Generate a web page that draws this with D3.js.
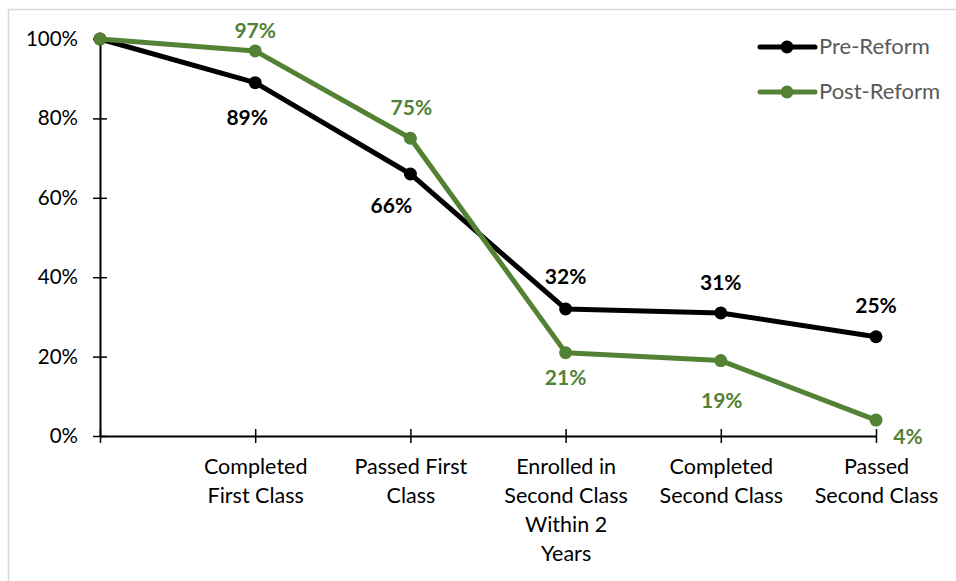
<!DOCTYPE html>
<html>
<head>
<meta charset="utf-8">
<script src="https://cdn.jsdelivr.net/npm/d3@7"></script>
<style>
  html, body { margin: 0; padding: 0; background: #fff; }
  svg { display: block; font-family: Lato, "Open Sans", sans-serif; }
</style>
</head>
<body>
<svg id="chart" width="956" height="581"></svg>
<script>
// Funnel stages (first stage is the unlabeled starting cohort)
const stages = ["", "Completed First Class", "Passed First Class",
  "Enrolled in Second Class Within 2 Years", "Completed Second Class", "Passed Second Class"];
const stageLines = [[""], ["Completed", "First Class"], ["Passed First", "Class"],
  ["Enrolled in", "Second Class", "Within 2", "Years"], ["Completed", "Second Class"], ["Passed", "Second Class"]];
const preReform = [100, 89, 66, 32, 31, 25];
const postReform = [100, 97, 75, 21, 19, 4];
const yTicks = [0, 20, 40, 60, 80, 100];
const seriesNames = ["Pre-Reform", "Post-Reform"];

// Label layout: [dx, dy] of each label's centre relative to its point (null = no label)
const preLabelOffset = [null, [-8, 35], [-19, 32], [0, -32], [0, -30], [0, -31]];
const postLabelOffset = [null, [0, -20], [1, -31], [0, 25], [1, 40], [32, 16]];

const colors = { "Pre-Reform": "#000000", "Post-Reform": "#548235" };
const labelColors = { "Pre-Reform": "#000000", "Post-Reform": "#538135" };

const svg = d3.select("#chart");

// outer frame
svg.append("rect").attr("x", 8.5).attr("y", 9.5).attr("width", 960).attr("height", 600)
  .attr("fill", "none").attr("stroke", "#d9d9d9").attr("stroke-width", 1.5);

const x = d3.scalePoint().domain(stages).range([100, 876]);
const y = d3.scaleLinear().domain([0, 100]).range([436, 39]);

// y axis
const yAxis = svg.append("g").attr("transform", "translate(100,0)")
  .call(d3.axisLeft(y).tickValues(yTicks).tickFormat(d => d + "%").tickSizeInner(7).tickSizeOuter(0));
yAxis.select(".domain").attr("stroke", "#000").attr("stroke-width", 2);
yAxis.selectAll(".tick line").attr("x2", 7).attr("x1", -7).attr("stroke", "#000").attr("stroke-width", 1.5);
yAxis.selectAll(".tick text").attr("x", -22).attr("font-size", 20.5).attr("fill", "#000")
  .attr("font-family", "Lato, sans-serif");

// x axis
const xAxis = svg.append("g").attr("transform", "translate(0,436)")
  .call(d3.axisBottom(x).tickSizeInner(7).tickSizeOuter(0).tickFormat(""));
xAxis.select(".domain").attr("stroke", "#000").attr("stroke-width", 2);
xAxis.selectAll(".tick line").attr("y1", -7).attr("y2", 7).attr("stroke", "#000").attr("stroke-width", 1.5);

// multi-line category labels
xAxis.selectAll(".tick").each(function(d, i) {
  const t = d3.select(this).append("text")
    .attr("text-anchor", "middle").attr("fill", "#000").attr("font-size", 21.5)
    .attr("font-family", "Lato, sans-serif");
  stageLines[i].forEach((line, j) => {
    t.append("tspan").attr("x", 0).attr("y", 38 + j * 29).text(line);
  });
});

const line = d3.line().x((d, i) => x(stages[i])).y(d => y(d));

function drawSeries(values, name, offsets) {
  const g = svg.append("g");
  g.append("path").datum(values).attr("d", line)
    .attr("fill", "none").attr("stroke", colors[name]).attr("stroke-width", 5)
    .attr("stroke-linejoin", "round");
  g.selectAll("circle").data(values).join("circle")
    .attr("cx", (d, i) => x(stages[i])).attr("cy", d => y(d)).attr("r", 6.5)
    .attr("fill", colors[name]);
  g.selectAll("text").data(values.map((v, i) => ({ v, i, off: offsets[i] })).filter(d => d.off))
    .join("text")
    .attr("x", d => x(stages[d.i]) + d.off[0])
    .attr("y", d => y(d.v) + d.off[1] + 7.5)
    .attr("text-anchor", "middle")
    .attr("font-size", 21).attr("font-weight", "bold")
    .attr("fill", labelColors[name])
    .text(d => d.v + "%");
}

drawSeries(preReform, "Pre-Reform", preLabelOffset);
drawSeries(postReform, "Post-Reform", postLabelOffset);

// legend
const legend = svg.append("g");
seriesNames.forEach((name, i) => {
  const ly = 47 + i * 45;
  legend.append("line").attr("x1", 760).attr("x2", 815).attr("y1", ly).attr("y2", ly)
    .attr("stroke", colors[name]).attr("stroke-width", 5).attr("stroke-linecap", "round");
  legend.append("circle").attr("cx", 787).attr("cy", ly).attr("r", 6.5).attr("fill", colors[name]);
  legend.append("text").attr("x", 819).attr("y", ly + 7).attr("font-size", 22)
    .attr("fill", "#595959").text(name);
});
</script>
</body>
</html>
